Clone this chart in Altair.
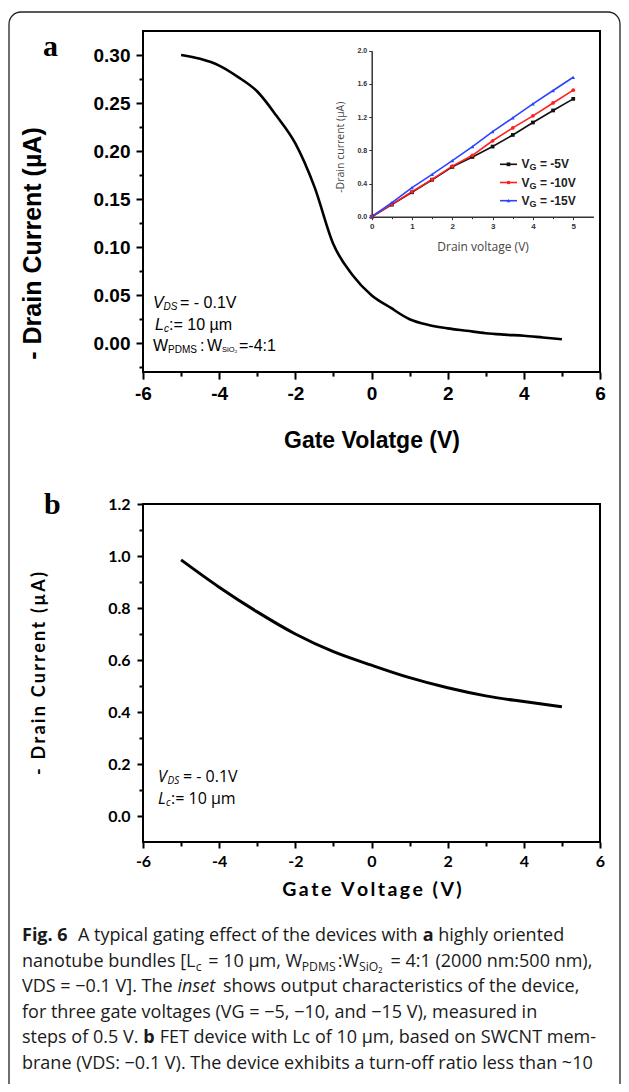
import altair as alt
import pandas as pd

W, H = 613, 1076

# ---------------- data ----------------
gate_a = [-5.0, -4.5, -4.0, -3.5, -3.0, -2.5, -2.0, -1.5, -1.0, -0.5, 0.0,
          0.5, 1.0, 1.5, 2.0, 2.5, 3.0, 3.5, 4.0, 4.5, 5.0]
current_a = [0.300, 0.296, 0.289, 0.277, 0.262, 0.237, 0.208, 0.163, 0.103, 0.071, 0.050,
             0.037, 0.025, 0.019, 0.0155, 0.013, 0.0105, 0.009, 0.0078, 0.006, 0.0042]

gate_b = [-5, -4, -3, -2, -1, 0, 1, 2, 3, 4, 5]
current_b = [0.985, 0.880, 0.785, 0.700, 0.632, 0.580, 0.532, 0.493, 0.462, 0.440, 0.420]

drain_v = [0.0, 0.5, 1.0, 1.5, 2.0, 2.5, 3.0, 3.5, 4.0, 4.5, 5.0]
inset_vg5 = [0.0, 0.145, 0.294, 0.445, 0.600, 0.720, 0.845, 0.985, 1.135, 1.280, 1.420]
inset_vg10 = [0.0, 0.150, 0.300, 0.450, 0.610, 0.740, 0.915, 1.070, 1.215, 1.370, 1.525]
inset_vg15 = [0.0, 0.170, 0.350, 0.510, 0.675, 0.845, 1.025, 1.190, 1.360, 1.520, 1.680]
series_names = ["VG = -5V", "VG = -10V", "VG = -15V"]
series_short = ["= -5V", "= -10V", "= -15V"]
series_colors = ["#111111", "#ff2020", "#2a44ff"]
series_shapes = ["square", "circle", "triangle-up"]

ticks_a_x = [-6, -4, -2, 0, 2, 4, 6]
minor_x = [-5, -3, -1, 1, 3, 5]
ticks_a_y = [0.0, 0.05, 0.10, 0.15, 0.20, 0.25, 0.30]
minor_a_y = [-0.025, 0.025, 0.075, 0.125, 0.175, 0.225, 0.275]
ticks_b_y = [0.0, 0.2, 0.4, 0.6, 0.8, 1.0, 1.2]
minor_b_y = [0.1, 0.3, 0.5, 0.7, 0.9, 1.1]
ticks_in_x = [0, 1, 2, 3, 4, 5]
minor_in_x = [0.5, 1.5, 2.5, 3.5, 4.5]
ticks_in_y = [0.0, 0.4, 0.8, 1.2, 1.6, 2.0]

caption_lines = [
    [("Fig. 6", "b"), ("  A typical gating effect of the devices with ", "n"), ("a", "b"),
     (" highly oriented", "n")],
    [("nanotube bundles [L", "n"), ("c", "sub"), (" = 10 µm, W", "n"), ("PDMS", "sub"),
     (":W", "n"), ("SiO₂", "sub"), (" = 4:1 (2000 nm:500 nm),", "n")],
    [("VDS = −0.1 V]. The ", "n"), ("inset", "i"),
     (" shows output characteristics of the device,", "n")],
    [("for three gate voltages (VG = −5, −10, and −15 V), measured in", "n")],
    [("steps of 0.5 V. ", "n"), ("b", "b"),
     (" FET device with Lc of 10 µm, based on SWCNT mem-", "n")],
    [("brane (VDS: −0.1 V). The device exhibits a turn-off ratio less than ~10", "n")],
]

# ---------------- helpers ----------------
dummy = pd.DataFrame({"k": [0]})


def txt(text, x, y, size, font="Liberation Sans", weight="normal", style="normal",
        align="left", baseline="middle", color="black", dy=0):
    return alt.Chart(dummy).mark_text(
        text=text, font=font, fontSize=size, fontWeight=weight, fontStyle=style,
        align=align, baseline=baseline, color=color, dy=dy
    ).encode(x=alt.value(x), y=alt.value(y))


def axis(orient, offset, values, expr, font, size, pad, tick, title="", **kw):
    d = dict(orient=orient, offset=offset, values=values, labelExpr=expr, labelFont=font,
             labelFontSize=size, labelFontWeight="bold", labelColor="black", labelPadding=pad,
             labelFlush=False, labelOverlap=False, tickSize=tick, tickWidth=2,
             tickColor="black", domain=False, grid=False, title=title)
    d.update(kw)
    return alt.Axis(**d)


def minor_axis(orient, offset, values, tick=4, width=2, color="black"):
    return alt.Axis(orient=orient, offset=offset, values=values, labels=False,
                    tickSize=tick, tickWidth=width, tickColor=color, domain=False,
                    grid=False, title="")


def frame(xs, ys, xd, yd):
    df = pd.DataFrame({"x0": [xd[0]], "x1": [xd[1]], "y0": [yd[0]], "y1": [yd[1]]})
    return alt.Chart(df).mark_rect(fill="transparent", stroke="black", strokeWidth=2).encode(
        x=alt.X("x0:Q", scale=xs, axis=None), x2="x1:Q",
        y=alt.Y("y0:Q", scale=ys, axis=None), y2="y1:Q")


layers = []

# outer rounded border
layers.append(alt.Chart(dummy).mark_rect(fill="transparent", stroke="#222", strokeWidth=1.3,
                                         cornerRadius=12).encode(
    x=alt.value(1), x2=alt.value(612), y=alt.value(4), y2=alt.value(1110)))

# ---------------- panel a ----------------
XL, XR = 135, 592
a_dom = [-0.03, 0.325]
A_BOT, A_TOP = 364.1, 23.0
xa = alt.Scale(domain=[-6, 6], range=[XL, XR], nice=False, zero=False)
ya = alt.Scale(domain=a_dom, range=[A_BOT, A_TOP], nice=False, zero=False)
df_a = pd.DataFrame({"vg": gate_a, "id": current_a})

layers.append(frame(xa, ya, [-6, 6], a_dom))
layers.append(alt.Chart(df_a).mark_line(color="black", strokeWidth=2.6, interpolate="monotone").encode(
    x=alt.X("vg:Q", scale=xa, axis=axis(
        "bottom", A_BOT - H, ticks_a_x, "'' + datum.value", "Liberation Sans", 19, 5, 7,
        title="Gate Volatge (V)", titleFont="Liberation Sans", titleFontSize=23,
        titleFontWeight="bold", titleColor="black", titleY=68, titleBaseline="middle")),
    y=alt.Y("id:Q", scale=ya, axis=axis(
        "left", -XL, ticks_a_y, "format(datum.value, '.2f')", "Liberation Sans", 19, 6, 7,
        title="- Drain Current (µA)", titleFont="Liberation Sans", titleFontSize=25,
        titleFontWeight="bold", titleColor="black", titleX=-111, titleY=235,
        titleBaseline="middle"))))
layers.append(alt.Chart(df_a).mark_point(opacity=0).encode(
    x=alt.X("vg:Q", scale=xa, axis=minor_axis("bottom", A_BOT - H, minor_x)),
    y=alt.Y("id:Q", scale=ya, axis=minor_axis("left", -XL, minor_a_y))))

layers.append(txt("a", 35, 39, 30, font="Liberation Serif", weight="bold"))

# annotations panel a
AX = 145
layers += [
    txt("V", AX, 295, 16, style="italic"),
    txt("DS", AX + 10.5, 295, 10, style="italic", dy=4),
    txt("= - 0.1V", AX + 27, 295, 16),
    txt("L", AX + 2, 317, 16, style="italic"),
    txt("c", AX + 11, 317, 10, style="italic", dy=4),
    txt(":= 10 µm", AX + 16, 317, 16),
    txt("W", AX, 338, 16),
    txt("PDMS", AX + 15, 338, 10, dy=4),
    txt(":", AX + 47, 338, 16),
    txt("W", AX + 54, 338, 16),
    txt("SiO₂", AX + 69, 338, 7.5, dy=4),
    txt("=-4:1", AX + 86, 338, 16),
]

# ---------------- inset ----------------
IX0, IY0 = 363.7, 208.7
xi = alt.Scale(domain=[0, 5.5], range=[IX0, 585.4], nice=False, zero=False)
yi = alt.Scale(domain=[0, 2.0], range=[IY0, 42.7], nice=False, zero=False)
rows = []
for name, vals in zip(series_names, [inset_vg5, inset_vg10, inset_vg15]):
    for v, c in zip(drain_v, vals):
        rows.append({"vd": v, "cur": c, "series": name})
df_in = pd.DataFrame(rows)
col_scale = alt.Scale(domain=series_names, range=series_colors)
shape_scale = alt.Scale(domain=series_names, range=series_shapes)
gray = "#333333"

layers.append(alt.Chart(df_in).mark_line(strokeWidth=1.6).encode(
    x=alt.X("vd:Q", scale=xi, axis=alt.Axis(
        orient="bottom", offset=IY0 - H, values=ticks_in_x, labelExpr="'' + datum.value",
        labelFont="Liberation Sans", labelFontSize=8, labelFontWeight="bold", labelColor=gray,
        labelPadding=3, labelFlush=False, labelOverlap=False, tickSize=3, tickWidth=1,
        tickColor=gray, domain=True, domainColor=gray, domainWidth=1.5, grid=False,
        title="Drain voltage (V)", titleFont="Open Sans", titleFontSize=12,
        titleFontWeight="normal", titleColor="#444", titleY=30, titleBaseline="middle")),
    y=alt.Y("cur:Q", scale=yi, axis=alt.Axis(
        orient="left", offset=-IX0, values=ticks_in_y, labelExpr="format(datum.value, '.1f')",
        labelFont="Liberation Sans", labelFontSize=7, labelFontWeight="bold", labelColor=gray,
        labelPadding=2, labelFlush=False, labelOverlap=False, tickSize=3, tickWidth=1,
        tickColor=gray, domain=True, domainColor=gray, domainWidth=1.5, grid=False,
        title="-Drain current (µA)", titleFont="Open Sans", titleFontSize=10.5,
        titleFontWeight="normal", titleColor="#444", titleX=-31, titleY=138.7,
        titleBaseline="middle")),
    color=alt.Color("series:N", scale=col_scale, legend=None)))
layers.append(alt.Chart(df_in).mark_point(filled=True, size=14, opacity=1).encode(
    x=alt.X("vd:Q", scale=xi, axis=minor_axis("bottom", IY0 - H, minor_in_x, tick=2, width=1,
                                              color=gray)),
    y=alt.Y("cur:Q", scale=yi, axis=None),
    color=alt.Color("series:N", scale=col_scale, legend=None),
    shape=alt.Shape("series:N", scale=shape_scale, legend=None)))

# inset legend
df_leg = pd.DataFrame({"series": series_names, "label": series_short, "row": [0, 1, 2]})
yl = alt.Y("row:Q", scale=alt.Scale(domain=[0, 2], range=[156.3, 192.7], nice=False, zero=False),
           axis=None)
layers.append(alt.Chart(df_leg).mark_rule(strokeWidth=1.6).encode(
    x=alt.value(492), x2=alt.value(509), y=yl,
    color=alt.Color("series:N", scale=col_scale, legend=None)))
layers.append(alt.Chart(df_leg).mark_point(filled=True, size=14, opacity=1).encode(
    x=alt.value(500.5), y=yl,
    color=alt.Color("series:N", scale=col_scale, legend=None),
    shape=alt.Shape("series:N", scale=shape_scale, legend=None)))
layers.append(alt.Chart(df_leg).mark_text(text="V", font="Liberation Sans", fontSize=12,
                                          fontWeight="bold", color="#222", align="left",
                                          baseline="middle").encode(x=alt.value(513.5), y=yl))
layers.append(alt.Chart(df_leg).mark_text(text="G", font="Liberation Sans", fontSize=9,
                                          fontWeight="bold", color="#222", align="left",
                                          baseline="middle", dy=3).encode(x=alt.value(521.5), y=yl))
layers.append(alt.Chart(df_leg).mark_text(font="Liberation Sans", fontSize=12, fontWeight="bold",
                                          color="#222", align="left", baseline="middle").encode(
    x=alt.value(532), y=yl, text="label:N"))

# ---------------- panel b ----------------
b_dom = [-0.1, 1.2]
B_BOT, B_TOP = 834.0, 496.0
xb = alt.Scale(domain=[-6, 6], range=[XL, XR], nice=False, zero=False)
yb = alt.Scale(domain=b_dom, range=[B_BOT, B_TOP], nice=False, zero=False)
df_b = pd.DataFrame({"vg": gate_b, "id": current_b})
sp = "\u2009"
layers.append(frame(xb, yb, [-6, 6], b_dom))
layers.append(alt.Chart(df_b).mark_line(color="black", strokeWidth=3, interpolate="monotone").encode(
    x=alt.X("vg:Q", scale=xb, axis=axis(
        "bottom", B_BOT - H, ticks_a_x, "'' + datum.value", "Lato", 16, 5, 6,
        title=sp.join("Gate Voltage (V)"), titleFont="Lato", titleFontSize=19.5,
        titleFontWeight="bold", titleColor="black", titleY=47, titleBaseline="middle")),
    y=alt.Y("id:Q", scale=yb, axis=axis(
        "left", -XL, ticks_b_y, "format(datum.value, '.1f')", "Lato", 16, 7, 6,
        title=sp.join("- Drain Current (µA)"), titleFont="Lato", titleFontSize=18,
        titleFontWeight="bold", titleColor="black", titleX=-104, titleBaseline="middle"))))
layers.append(alt.Chart(df_b).mark_point(opacity=0).encode(
    x=alt.X("vg:Q", scale=xb, axis=minor_axis("bottom", B_BOT - H, minor_x)),
    y=alt.Y("id:Q", scale=yb, axis=minor_axis("left", -XL, minor_b_y))))

layers.append(txt("b", 36, 497, 30, font="Liberation Serif", weight="bold"))

BX = 150
layers += [
    txt("V", BX, 769, 16, font="Open Sans", style="italic"),
    txt("DS", BX + 9.5, 769, 10, font="Open Sans", style="italic", dy=4),
    txt("= - 0.1V", BX + 25, 769, 16, font="Open Sans"),
    txt("L", BX, 791, 16, font="Open Sans", style="italic"),
    txt("c", BX + 8, 791, 10, font="Open Sans", style="italic", dy=4),
    txt(":= 10 µm", BX + 13, 791, 16, font="Open Sans"),
]

# ---------------- caption ----------------
CW = {" ": .26, "a": .556, "b": .613, "c": .48, "d": .613, "e": .561, "f": .336, "g": .546,
      "h": .614, "i": .258, "j": .258, "k": .529, "l": .258, "m": .932, "n": .614, "o": .604,
      "p": .613, "q": .613, "r": .408, "s": .477, "t": .353, "u": .614, "v": .501, "w": .778,
      "x": .524, "y": .503, "z": .468, "A": .633, "B": .646, "C": .631, "D": .729, "E": .556,
      "F": .516, "G": .728, "I": .279, "L": .519, "M": .907, "N": .764, "O": .779, "P": .602,
      "S": .549, "T": .553, "V": .592, "W": .907, ".": .267, ",": .245, ":": .267, "(": .296,
      ")": .296, "[": .329, "]": .329, "=": .572, "−": .572, "-": .322, "µ": .614, "~": .572,
      "₂": .45}


def tw(s, size, bold=False):
    w = sum(CW.get(ch, .572) for ch in s) * size
    return w * (1.07 if bold else 1.0)


CAP = 18.0
for i, segs in enumerate(caption_lines):
    x = 14.0
    y = 928 + 25.5 * i
    for s, kind in segs:
        size = CAP * (0.68 if kind == "sub" else 1.0)
        dy = 5 if kind == "sub" else 0
        bold = kind == "b"
        lead = len(s) - len(s.lstrip())
        stripped = s.strip()
        if stripped:
            layers.append(txt(stripped, x + tw(s[:lead], size, bold), y, size, font="Open Sans",
                              weight="bold" if bold else "normal",
                              style="italic" if kind == "i" else "normal", dy=dy,
                              color="#1a1a1a"))
        x += tw(s, size, bold)
        if kind == "sub":
            x += 2.0

chart = alt.layer(*layers).resolve_scale(x="independent", y="independent").properties(
    width=W, height=H, autosize=alt.AutoSizeParams(type="none"),
    padding={"left": 0, "top": 0, "right": 0, "bottom": 0},
    background="white",
).configure_view(strokeWidth=0)

chart.save("out.html", embed_options={"renderer": "svg", "actions": False})
